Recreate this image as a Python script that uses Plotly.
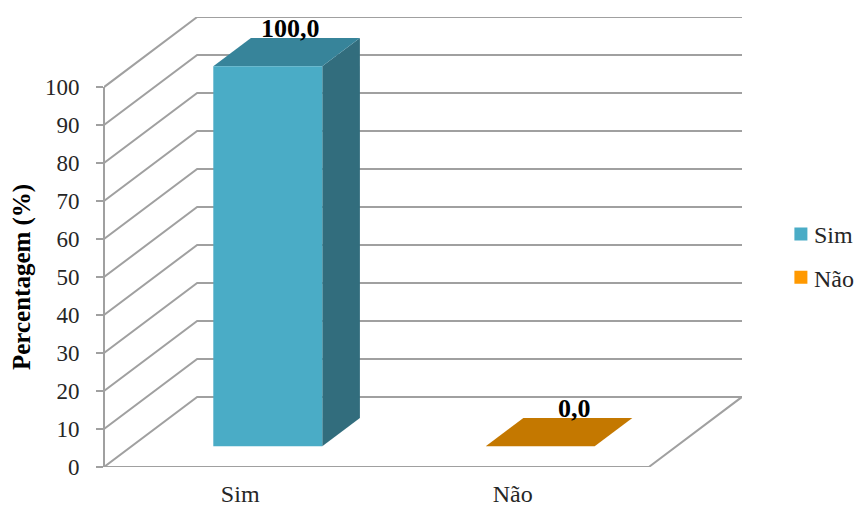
import plotly.graph_objects as go

# Survey answers, in percent
categories = ["Sim", "Não"]
values = [100.0, 0.0]
value_labels = ["100,0", "0,0"]
y_ticks = [0, 10, 20, 30, 40, 50, 60, 70, 80, 90, 100]

# Oblique projection of the chart box: a full step in depth moves a point by
# this much along each axis
DEPTH_X = 93 / 272
DEPTH_Y = 70 / 3.795

FRONT_COLORS = ["#4AACC6", "#FF9900"]
TOP_COLORS = ["#37849A", "#C47800"]
SIDE_COLORS = ["#326D7D", "#A86700"]
GRID = "#A0A0A0"
FONT = "Liberation Serif"


def project(x, v, depth):
    return x + depth * DEPTH_X, v + depth * DEPTH_Y


def polygon(corners, color):
    pts = [project(*c) for c in corners]
    pts.append(pts[0])
    return go.Scatter(
        x=[p[0] for p in pts], y=[p[1] for p in pts],
        mode="lines", fill="toself", fillcolor=color,
        line=dict(width=0), showlegend=False, hoverinfo="skip",
    )


def wire(corners, width=2):
    pts = [project(*c) for c in corners]
    return go.Scatter(
        x=[p[0] for p in pts], y=[p[1] for p in pts],
        mode="lines", line=dict(color=GRID, width=width),
        showlegend=False, hoverinfo="skip", cliponaxis=False,
    )


fig = go.Figure()

# Gridlines on the left wall and the back wall
for t in y_ticks:
    fig.add_trace(wire([(0, t, 0), (0, t, 1), (len(categories), t, 1)]))

# Floor outline
fig.add_trace(wire([(0, 0, 0), (len(categories), 0, 0), (len(categories), 0, 1)]))

# Vertical value axis on the left edge of the plot, stopping at the top tick
fig.add_shape(
    type="line", xref="paper", yref="y", x0=0, x1=0, y0=y_ticks[0], y1=y_ticks[-1],
    line=dict(color=GRID, width=2), layer="above",
)

# Bars: 40% of the category width and box depth, centred in both directions
D0, D1 = 0.296, 0.70
for i, v in enumerate(values):
    x0, x1 = i + 0.3, i + 0.7
    fig.add_trace(polygon([(x1, 0, D0), (x1, 0, D1), (x1, v, D1), (x1, v, D0)], SIDE_COLORS[i]))
    fig.add_trace(polygon([(x0, v, D0), (x1, v, D0), (x1, v, D1), (x0, v, D1)], TOP_COLORS[i]))
    fig.add_trace(polygon([(x0, 0, D0), (x1, 0, D0), (x1, v, D0), (x0, v, D0)], FRONT_COLORS[i]))

# Legend swatches, nudged towards their labels
for i, name in enumerate(categories):
    fig.add_trace(go.Scatter(
        x=[None], y=[None], mode="markers", name=name, legendgroup=name,
        marker=dict(symbol="square", size=13, color=FRONT_COLORS[i], angle=90, standoff=7),
    ))

# Value labels sit just above the rear edge of each bar
label_shift = [-15, -3]
label_lift = [10, 9]
for i, v in enumerate(values):
    lx, ly = project(i + 0.5, v, D1)
    fig.add_annotation(
        x=lx, y=ly, text=f"<b>{value_labels[i]}</b>", showarrow=False,
        xshift=label_shift[i], yshift=label_lift[i],
        font=dict(family=FONT, size=26, color="#000000"),
    )

# Axis title, centred on the middle of the value scale
fig.add_annotation(
    xref="paper", x=-0.1285, y=y_ticks[5], text="<b>Percentagem (%)</b>",
    textangle=-90, showarrow=False, xanchor="center", yanchor="middle",
    font=dict(family=FONT, size=25, color="#000000"),
)

fig.update_layout(
    width=855, height=506,
    margin=dict(l=104, r=113, t=16.5, b=39.3, autoexpand=False),
    paper_bgcolor="white", plot_bgcolor="white",
    font=dict(family=FONT, color="#262626"),
    showlegend=True,
    legend=dict(
        x=1.05, y=0.567, xanchor="left", yanchor="top",
        font=dict(family=FONT, size=24, color="#262626"),
        tracegroupgap=9, itemwidth=30, bgcolor="rgba(0,0,0,0)",
    ),
    xaxis=dict(
        range=[0, len(categories) + DEPTH_X], showgrid=False, zeroline=False,
        showline=False, tickmode="array", tickvals=[0.5, 1.5], ticktext=categories,
        ticks="", ticklabelstandoff=10,
        tickfont=dict(family=FONT, size=24, color="#262626"),
    ),
    yaxis=dict(
        range=[0, y_ticks[-1] + DEPTH_Y], showgrid=False, zeroline=False,
        showline=False, tickmode="array", tickvals=y_ticks,
        ticks="outside", ticklen=7, tickwidth=2, tickcolor=GRID, ticklabelstandoff=12,
        tickfont=dict(family=FONT, size=23, color="#262626"),
    ),
)

fig.write_html("out.html")
